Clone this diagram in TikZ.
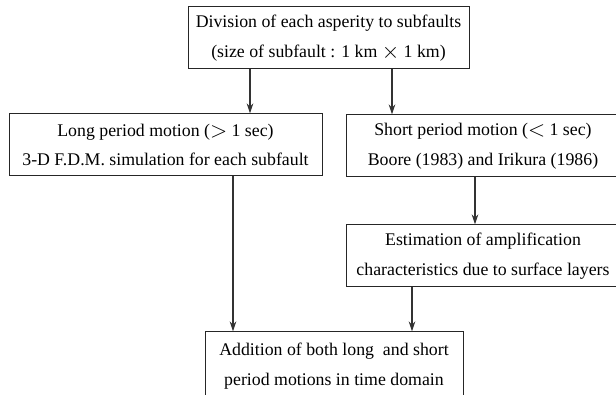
\documentclass[tikz,border=0pt]{standalone}
\usepackage{fontspec}
\setmainfont{Liberation Serif}
\usetikzlibrary{arrows.meta}
\newcommand{\bigsym}[1]{\raisebox{-0.08em}{\scalebox{1.3}{$#1$}}}
\begin{document}
\begin{tikzpicture}[x=1pt,y=-1pt,
  boxnode/.style={draw=black!85,line width=1pt,inner sep=0pt,align=center,
    font=\fontsize{17.8}{29.5}\selectfont},
  flow/.style={draw=black!80,line width=1.8pt,-{Stealth[length=10pt,width=6.5pt]}}]
\useasboundingbox (0,0) rectangle (616,395);
\clip (0,0) rectangle (616,395);
\fill[white] (0,0) rectangle (616,395);
\node[boxnode,minimum width=281pt,minimum height=62pt] (b1) at (328.5,38)
  {Division of each asperity to subfaults\\(size of subfault : 1 km \bigsym{\times} 1 km)};
\node[boxnode,minimum width=313pt,minimum height=62pt] (b2) at (165.5,145)
  {Long period motion (\bigsym{>} 1 sec)\\3-D F.D.M. simulation for each subfault};
\node[boxnode,minimum width=274pt,minimum height=62pt] (b3) at (483,146)
  {Short period motion (\bigsym{<} 1 sec)\\Boore (1983) and Irikura (1986)};
\node[boxnode,minimum width=274pt,minimum height=62pt] (b4) at (483,256)
  {Estimation of amplification\\characteristics due to surface layers};
\node[boxnode,minimum width=258pt,minimum height=68pt] (b5) at (334,366)
  {Addition of both long\ \ and short\\period motions in time domain};
\draw[flow] (b1.south -| 250,0) -- (b2.north -| 250,0);
\draw[flow] (b1.south -| 392,0) -- (b3.north -| 392,0);
\draw[flow] (b3.south -| 475,0) -- (b4.north -| 475,0);
\draw[flow] (b4.south -| 412,0) -- (b5.north -| 412,0);
\draw[flow] (b2.south -| 233,0) -- (b5.north -| 233,0);
\end{tikzpicture}
\end{document}
